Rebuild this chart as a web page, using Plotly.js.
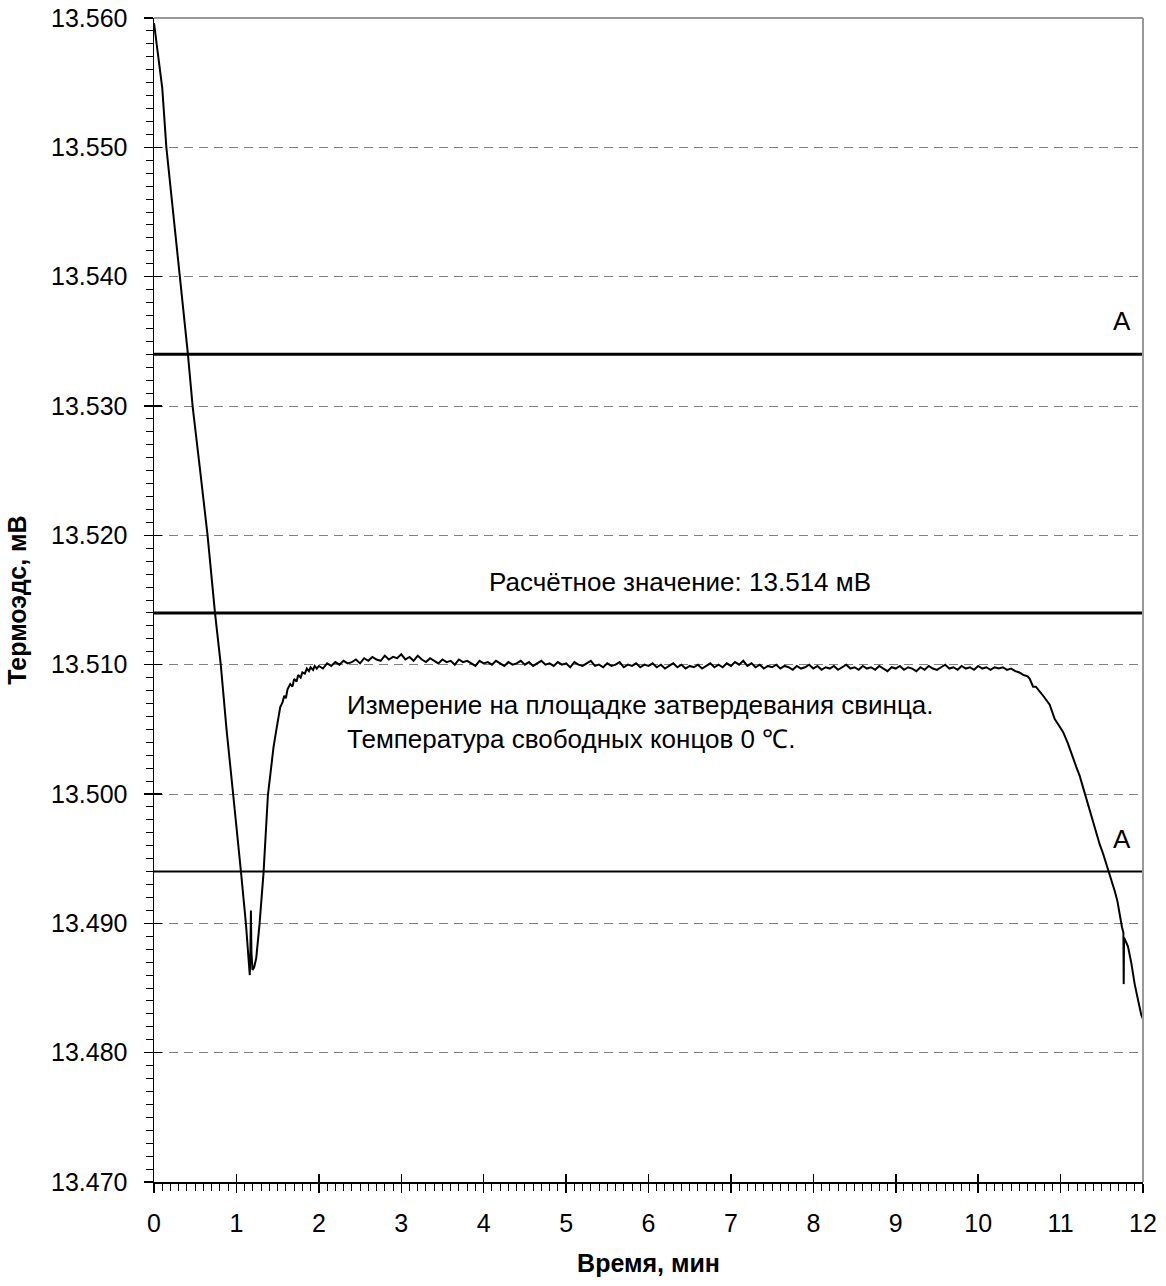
<!DOCTYPE html>
<html>
<head>
<meta charset="utf-8">
<script src="https://cdn.plot.ly/plotly-3.0.1.min.js"></script>
<style>html,body{margin:0;padding:0;background:#fff;}#chart{width:1166px;height:1286px;}</style>
</head>
<body>
<div id="chart"></div>
<script>
// ---- Data ----
// Initial cooling and supercooling dip
var timeStart = [0.00,0.05,0.10,0.15,0.20,0.25,0.31,0.36,0.41,0.47,0.50,0.56,0.65,0.74,0.81,0.88,0.96,1.01,1.055,1.115,1.147,1.162,1.170,1.176,1.182,1.195,1.215,1.240,1.280,1.329,1.382,1.419,1.45,1.483,1.51,1.531,1.56,1.58,1.60,1.62,1.653,1.68,1.70,1.73,1.75,1.78,1.80,1.83,1.855,1.88,1.90,1.93,1.95,1.975];
var emfStart  = [13.5596,13.5572,13.5546,13.5500,13.5470,13.5440,13.5400,13.5370,13.5341,13.5299,13.5281,13.5250,13.5200,13.5140,13.5100,13.5050,13.5000,13.4970,13.4940,13.4900,13.4872,13.4860,13.4880,13.4910,13.4878,13.4864,13.4866,13.4873,13.4899,13.4939,13.4999,13.5021,13.5036,13.5049,13.5058,13.5067,13.5071,13.5076,13.5074,13.5081,13.5085,13.5083,13.5089,13.5087,13.5092,13.5090,13.5094,13.5093,13.5097,13.5095,13.5098,13.5096,13.5099,13.5097];
// Freezing plateau
var timePlateau = [2.00,2.05,2.10,2.15,2.20,2.25,2.30,2.35,2.40,2.45,2.50,2.55,2.60,2.65,2.70,2.75,2.80,2.85,2.90,2.95,3.00,3.05,3.10,3.15,3.20,3.25,3.30,3.35,3.40,3.45,3.50,3.55,3.60,3.65,3.70,3.75,3.80,3.85,3.90,3.95,4.00,4.05,4.10,4.15,4.20,4.25,4.30,4.35,4.40,4.45,4.50,4.55,4.60,4.65,4.70,4.75,4.80,4.85,4.90,4.95,5.00,5.05,5.10,5.15,5.20,5.25,5.30,5.35,5.40,5.45,5.50,5.55,5.60,5.65,5.70,5.75,5.80,5.85,5.90,5.95,6.00,6.05,6.10,6.15,6.20,6.25,6.30,6.35,6.40,6.45,6.50,6.55,6.60,6.65,6.70,6.75,6.80,6.85,6.90,6.95,7.00,7.05,7.10,7.15,7.20,7.25,7.30,7.35,7.40,7.45,7.50,7.55,7.60,7.65,7.70,7.75,7.80,7.85,7.90,7.95,8.00,8.05,8.10,8.15,8.20,8.25,8.30,8.35,8.40,8.45,8.50,8.55,8.60,8.65,8.70,8.75,8.80,8.85,8.90,8.95,9.00,9.05,9.10,9.15,9.20,9.25,9.30,9.35,9.40,9.45,9.50,9.55,9.60,9.65,9.70,9.75,9.80,9.85,9.90,9.95,10.00,10.05,10.10,10.15,10.20,10.25,10.30,10.35,10.40,10.45,10.50];
var emfPlateau  = [13.5099,13.5097,13.5101,13.5099,13.5102,13.5100,13.5103,13.5101,13.5102,13.5104,13.5101,13.5105,13.5103,13.5106,13.5104,13.5103,13.5107,13.5104,13.5106,13.5105,13.5108,13.5104,13.5106,13.5103,13.5107,13.5104,13.5102,13.5105,13.5103,13.5101,13.5104,13.5102,13.5103,13.5100,13.5104,13.5102,13.5103,13.5101,13.5099,13.5103,13.5101,13.5102,13.5100,13.5103,13.5101,13.5099,13.5102,13.5100,13.5101,13.5103,13.5100,13.5102,13.5099,13.5101,13.5103,13.5100,13.5101,13.5099,13.5102,13.5100,13.5101,13.5098,13.5102,13.5100,13.5099,13.5101,13.5103,13.5099,13.5100,13.5098,13.5101,13.5099,13.5100,13.5102,13.5098,13.5100,13.5099,13.5101,13.5098,13.5100,13.5099,13.5101,13.5098,13.5100,13.5097,13.5099,13.5101,13.5098,13.5100,13.5097,13.5099,13.5098,13.5100,13.5097,13.5099,13.5101,13.5098,13.5100,13.5098,13.5101,13.5099,13.5102,13.5100,13.5103,13.5099,13.5101,13.5098,13.5100,13.5097,13.5099,13.5098,13.5100,13.5097,13.5099,13.5098,13.5096,13.5099,13.5097,13.5098,13.5100,13.5097,13.5099,13.5096,13.5098,13.5097,13.5099,13.5096,13.5098,13.5100,13.5097,13.5098,13.5096,13.5099,13.5097,13.5098,13.5096,13.5099,13.5097,13.5095,13.5098,13.5097,13.5099,13.5096,13.5098,13.5097,13.5095,13.5098,13.5096,13.5099,13.5097,13.5096,13.5098,13.5100,13.5097,13.5098,13.5096,13.5099,13.5097,13.5098,13.5096,13.5099,13.5097,13.5098,13.5096,13.5098,13.5097,13.5098,13.5096,13.5097,13.5095,13.5094];
// End of plateau and cooling
var timeEnd = [10.55,10.60,10.626,10.666,10.70,10.767,10.80,10.868,10.90,10.929,10.98,11.030,11.090,11.151,11.19,11.232,11.293,11.353,11.40,11.434,11.475,11.515,11.556,11.596,11.657,11.69,11.718,11.745,11.762,11.766,11.770,11.798,11.818,11.859,11.899,11.939,11.98,12.00];
var emfEnd  = [13.5092,13.5091,13.5089,13.5083,13.5083,13.5078,13.5075,13.5069,13.5063,13.5058,13.5053,13.5048,13.5039,13.5027,13.5021,13.5014,13.5001,13.4987,13.4977,13.4969,13.4961,13.4954,13.4946,13.4938,13.4925,13.4917,13.4906,13.4897,13.4893,13.4853,13.4889,13.4885,13.4882,13.4869,13.4853,13.4841,13.4829,13.4826];

// Reference levels: upper limit A, calculated value, lower limit A
var refLevels = [13.534, 13.514, 13.494];
var refWidths = [3, 3, 2];
var xRange = [0, 12];
var yRange = [13.470, 13.560];

var xTitle = 'Время, мин';
var yTitle = 'Термоэдс, мВ';
var calcLabel = 'Расчётное значение: 13.514 мВ';
var noteLabel = 'Измерение на площадке затвердевания свинца.<br>Температура свободных концов 0 ℃.';
var limitLabel = 'A';

var timeAll = timeStart.concat(timePlateau, timeEnd);
var emfAll = emfStart.concat(emfPlateau, emfEnd);

var FONT = 'Liberation Sans, Arial, sans-serif';

var traces = [];
refLevels.forEach(function (v, i) {
  traces.push({
    x: xRange, y: [v, v], mode: 'lines', type: 'scatter',
    line: {color: '#000', width: refWidths[i]}, hoverinfo: 'skip', showlegend: false
  });
});
traces.push({
  x: timeAll, y: emfAll, mode: 'lines', type: 'scatter',
  line: {color: '#000', width: 2}, showlegend: false
});
// dummy trace to activate overlay axes (inside major ticks)
traces.push({x: [null], y: [null], xaxis: 'x2', yaxis: 'y2', mode: 'lines', showlegend: false, hoverinfo: 'skip'});

var layout = {
  width: 1166, height: 1286,
  margin: {l: 154, r: 23, t: 18, b: 104},
  paper_bgcolor: '#fff', plot_bgcolor: '#fff',
  font: {family: FONT, size: 25, color: '#000'},
  showlegend: false,
  xaxis: {
    range: xRange, tick0: 0, dtick: 1, ticks: 'outside', ticklen: 9, tickwidth: 1.5, tickcolor: '#000',
    minor: {dtick: 0.1, ticks: 'outside', ticklen: 7, tickwidth: 1, tickcolor: '#000', showgrid: false},
    showline: true, linecolor: '#000', linewidth: 1.5, showgrid: false, zeroline: false,
    tickfont: {family: FONT, size: 25, color: '#000'}, ticklabelstandoff: 9,
    title: {text: xTitle, font: {family: FONT, size: 25, color: '#000', weight: 'bold'}, standoff: 19}
  },
  yaxis: {
    range: yRange, tick0: 13.47, dtick: 0.01, tickformat: '.3f',
    ticks: 'outside', ticklen: 9, tickwidth: 1.5, tickcolor: '#000',
    minor: {dtick: 0.001, ticks: 'outside', ticklen: 7, tickwidth: 1, tickcolor: '#000', showgrid: false},
    showline: true, linecolor: '#000', linewidth: 1.5, zeroline: false,
    showgrid: true, gridcolor: '#808080', gridwidth: 1, griddash: '9px,6px',
    tickfont: {family: FONT, size: 25, color: '#000'}, ticklabelstandoff: 11,
    title: {text: yTitle, font: {family: FONT, size: 25, color: '#000', weight: 'bold'}, standoff: 17}
  },
  xaxis2: {
    overlaying: 'x', anchor: 'y2', side: 'bottom', range: xRange, tick0: 0, dtick: 1,
    ticks: 'inside', ticklen: 8, tickwidth: 1.5, tickcolor: '#000',
    showticklabels: false, showline: false, showgrid: false, zeroline: false
  },
  yaxis2: {
    overlaying: 'y', anchor: 'x2', side: 'left', range: yRange, tick0: 13.47, dtick: 0.01,
    ticks: 'inside', ticklen: 8, tickwidth: 1.5, tickcolor: '#000',
    showticklabels: false, showline: false, showgrid: false, zeroline: false
  },
  shapes: [
    {type: 'line', xref: 'paper', yref: 'paper', x0: 0, x1: 1, y0: 1, y1: 1, line: {color: '#999', width: 2}, layer: 'above'},
    {type: 'line', xref: 'paper', yref: 'paper', x0: 1, x1: 1, y0: 0, y1: 1, line: {color: '#999', width: 2}, layer: 'above'}
  ],
  annotations: [
    {x: 11.74, y: refLevels[0], xref: 'x', yref: 'y', text: limitLabel, showarrow: false,
     yanchor: 'bottom', yshift: 16, font: {family: FONT, size: 26, color: '#000'}},
    {x: 11.74, y: refLevels[2], xref: 'x', yref: 'y', text: limitLabel, showarrow: false,
     yanchor: 'bottom', yshift: 16, font: {family: FONT, size: 26, color: '#000'}},
    {x: 6.38, y: refLevels[1], xref: 'x', yref: 'y', text: calcLabel, showarrow: false,
     yanchor: 'bottom', yshift: 14, font: {family: FONT, size: 26, color: '#000'}},
    {x: 2.32, y: 13.5056, xref: 'x', yref: 'y', text: noteLabel, showarrow: false,
     xanchor: 'left', yanchor: 'middle', align: 'left', font: {family: FONT, size: 26, color: '#000'}}
  ]
};

Plotly.newPlot('chart', traces, layout, {staticPlot: true, displayModeBar: false});
</script>
</body>
</html>
